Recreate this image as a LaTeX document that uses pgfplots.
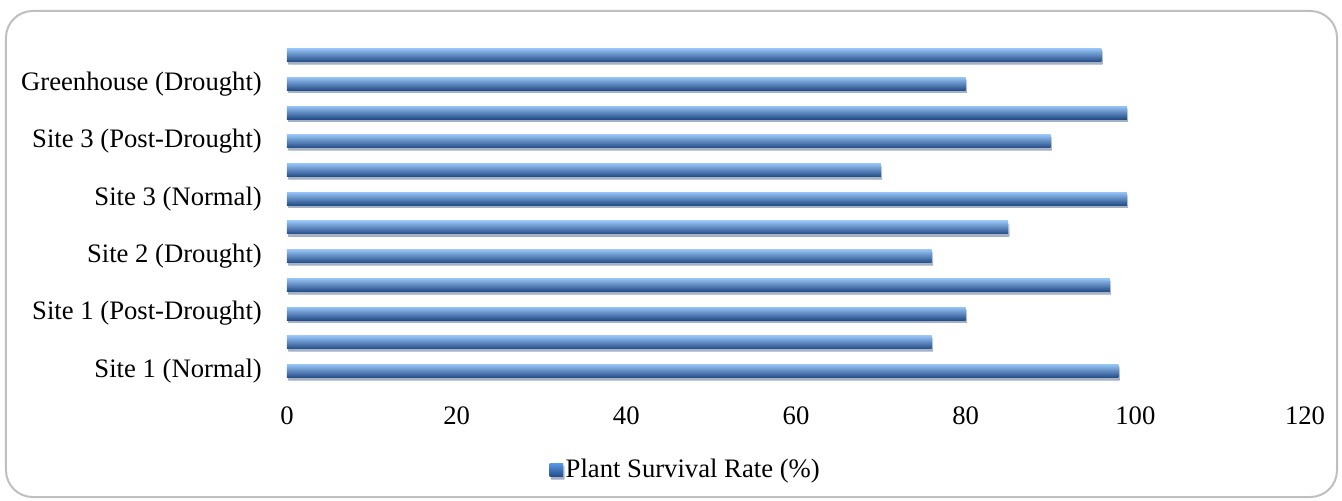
\documentclass[border=0pt]{standalone}
\usepackage{pgfplots}
\pgfplotsset{compat=1.18}
\usepackage{fontspec}
\setmainfont{Liberation Serif}
\usetikzlibrary{shadows}
\definecolor{barlight}{RGB}{88,152,232}
\definecolor{bardark}{RGB}{36,76,134}
\definecolor{bartop}{RGB}{150,195,245}
\definecolor{framegray}{RGB}{191,191,191}
\pgfplotsset{mybar/.style={draw=none, bar shift=0pt, top color=bartop, middle color=barlight, bottom color=bardark,
  drop shadow={opacity=0.3, shadow xshift=1pt, shadow yshift=-2pt}}}
\begin{document}
\fontsize{20}{24}\selectfont
\begin{tikzpicture}
\begin{scope}[x=0.75pt,y=-0.75pt,shift={(-287,-385.4)}]
\path[use as bounding box] (0,0) rectangle (1342,500);
\draw[framegray, line width=1.5pt, rounded corners=20pt] (6,11) rectangle (1337,497);
\end{scope}
\begin{axis}[
  scale only axis,
  width=763.5pt, height=258.5pt,
  xbar, bar width=9.75pt,
  xmin=0, xmax=120, ymin=-0.5, ymax=11.5,
  xtick={0,20,...,120},
  ytick={0,2,4,6,8,10},
  yticklabels={Site 1 (Normal), Site 1 (Post-Drought), Site 2 (Drought), Site 3 (Normal), Site 3 (Post-Drought), Greenhouse (Drought)},
  axis line style={draw=none},
  major tick length=0pt,
  /pgf/number format/assume math mode=true,
  tick label style={font=\fontsize{20}{24}\selectfont},
  xticklabel style={yshift=-9pt},
  yticklabel style={xshift=-12pt},
  legend style={at={(axis description cs:0.392,-0.245)}, anchor=center, draw=none, fill=none,
    font=\fontsize{20}{24}\selectfont, inner sep=0pt},
  legend image code/.code={\fill[top color=barlight, bottom color=bardark] (0pt,-5pt) rectangle (10pt,5pt);},
]
\addplot[mybar] coordinates {(98,0)};
\addlegendentry{Plant Survival Rate (\%)}
\addplot[mybar, forget plot] coordinates {(76,1)};
\addplot[mybar, forget plot] coordinates {(80,2)};
\addplot[mybar, forget plot] coordinates {(97,3)};
\addplot[mybar, forget plot] coordinates {(76,4)};
\addplot[mybar, forget plot] coordinates {(85,5)};
\addplot[mybar, forget plot] coordinates {(99,6)};
\addplot[mybar, forget plot] coordinates {(70,7)};
\addplot[mybar, forget plot] coordinates {(90,8)};
\addplot[mybar, forget plot] coordinates {(99,9)};
\addplot[mybar, forget plot] coordinates {(80,10)};
\addplot[mybar, forget plot] coordinates {(96,11)};
\end{axis}
\end{tikzpicture}
\end{document}
